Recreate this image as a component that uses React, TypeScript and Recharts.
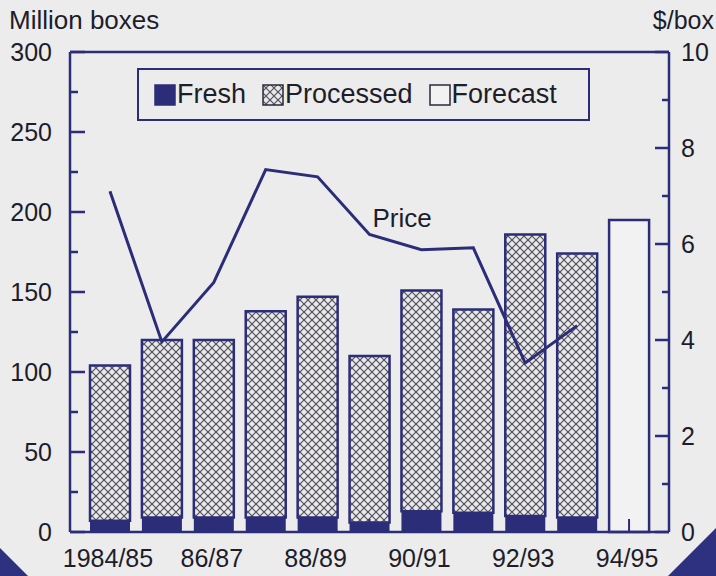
import { Bar, ComposedChart, Legend, Line, ReferenceDot, ReferenceLine, XAxis, YAxis } from 'recharts';

const seasons = ['1984/85', '85/86', '86/87', '87/88', '88/89', '89/90', '90/91', '91/92', '92/93', '93/94', '94/95'];
const freshBoxes = [7, 9, 9, 9, 9, 6, 13, 12, 10, 9, null];
const processedBoxes = [97, 111, 111, 129, 138, 104, 138, 127, 176, 165, null];
const forecastBoxes = [null, null, null, null, null, null, null, null, null, null, 195];
const pricePerBox = [7.1, 3.96, 5.2, 7.55, 7.4, 6.2, 5.88, 5.92, 3.52, 4.3, null];

const boxTicks = [0, 25, 50, 75, 100, 125, 150, 175, 200, 225, 250, 275, 300];
const priceTicks = [0, 1, 2, 3, 4, 5, 6, 7, 8, 9, 10];

const NAVY = '#2c2d78';
const INK = '#1d1d2b';
const BG = '#ececec';
const FONT = '"Liberation Sans", Arial, Helvetica, sans-serif';

const data = seasons.map((season, i) => ({
  season,
  fresh: freshBoxes[i],
  processed: processedBoxes[i],
  forecast: forecastBoxes[i],
  price: pricePerBox[i],
}));

function Hatch({ id }: { id: string }) {
  return (
    <pattern id={id} patternUnits="userSpaceOnUse" width={8} height={8}>
      <rect width={8} height={8} fill="#e9e9ec" />
      <path d="M0,0 L8,8 M8,0 L0,8" stroke="#505058" strokeWidth={1.2} />
    </pattern>
  );
}

function BoxTick({ x, y, payload }: any) {
  const major = payload.value % 50 === 0;
  return (
    <g>
      <line x1={x} x2={x + (major ? 15 : 8)} y1={y} y2={y} stroke={NAVY} strokeWidth={2.5} />
      {major && (
        <text x={x - 18} y={y} textAnchor="end" dominantBaseline="central" fill={INK} fontSize={25} fontFamily={FONT}>
          {payload.value}
        </text>
      )}
    </g>
  );
}

function PriceTick({ x, y, payload }: any) {
  const major = payload.value % 2 === 0;
  return (
    <g>
      <line x1={x} x2={x - (major ? 14 : 7)} y1={y} y2={y} stroke={NAVY} strokeWidth={2.5} />
      {major && (
        <text x={x + 12} y={y} textAnchor="start" dominantBaseline="central" fill={INK} fontSize={25} fontFamily={FONT}>
          {payload.value}
        </text>
      )}
    </g>
  );
}

function SeasonTick({ x, y, payload, index }: any) {
  return (
    <g>
      <line x1={x} x2={x} y1={y} y2={y - 13} stroke={NAVY} strokeWidth={2} />
      {index % 2 === 0 && (
        <text x={x - 2} y={y + 35} textAnchor="middle" fill={INK} fontSize={25} fontFamily={FONT}>
          {payload.value}
        </text>
      )}
    </g>
  );
}

function Swatch({ kind }: { kind: 'fresh' | 'processed' | 'forecast' }) {
  return (
    <svg width={22} height={22} style={{ display: 'block' }}>
      <defs>
        <Hatch id="legend-hatch" />
      </defs>
      <rect
        x={1}
        y={1}
        width={20}
        height={20}
        fill={kind === 'fresh' ? NAVY : kind === 'processed' ? 'url(#legend-hatch)' : '#f2f2f2'}
        stroke={kind === 'fresh' ? NAVY : '#2a2a3a'}
        strokeWidth={1.5}
      />
    </svg>
  );
}

function LegendBox() {
  const items: Array<['fresh' | 'processed' | 'forecast', string]> = [
    ['fresh', 'Fresh'],
    ['processed', 'Processed'],
    ['forecast', 'Forecast'],
  ];
  return (
    <div
      style={{
        boxSizing: 'border-box',
        width: 453,
        height: 53,
        border: `2px solid ${NAVY}`,
        background: BG,
        display: 'flex',
        alignItems: 'center',
        paddingLeft: 15,
        gap: 16,
        fontFamily: FONT,
        fontSize: 27,
        color: INK,
      }}
    >
      {items.map(([kind, label]) => (
        <div key={kind} style={{ display: 'flex', alignItems: 'center', gap: 1 }}>
          <Swatch kind={kind} />
          <span>{label}</span>
        </div>
      ))}
    </div>
  );
}

function PriceLabel({ viewBox }: any) {
  return (
    <text x={viewBox.x + 4} y={viewBox.y - 6} fill={INK} fontSize={26} fontFamily={FONT}>
      Price
    </text>
  );
}

export default function App() {
  return (
    <div style={{ position: 'absolute', left: 0, top: 0, width: 716, height: 576, background: BG, overflow: 'hidden' }}>
      <ComposedChart
        width={716}
        height={576}
        data={data}
        margin={{ top: 52, right: 46, bottom: 43, left: 69 }}
        barSize={40}
      >
        <defs>
          <Hatch id="processed-hatch" />
        </defs>
        <XAxis
          dataKey="season"
          height={1}
          padding={{ left: 14, right: 14 }}
          interval={0}
          tickSize={0}
          tickMargin={0}
          tickLine={false}
          axisLine={{ stroke: NAVY, strokeWidth: 2.5 }}
          tick={<SeasonTick />}
        />
        <YAxis
          yAxisId="left"
          domain={[0, 300]}
          ticks={boxTicks}
          width={1}
          tickSize={0}
          tickMargin={0}
          tickLine={false}
          axisLine={{ stroke: NAVY, strokeWidth: 2.5 }}
          tick={<BoxTick />}
        />
        <YAxis
          yAxisId="right"
          orientation="right"
          domain={[0, 10]}
          ticks={priceTicks}
          width={1}
          tickSize={0}
          tickMargin={0}
          tickLine={false}
          axisLine={{ stroke: NAVY, strokeWidth: 2.5 }}
          tick={<PriceTick />}
        />
        <ReferenceLine yAxisId="left" y={300} stroke={NAVY} strokeWidth={2.5} />
        <Bar yAxisId="left" dataKey="fresh" name="Fresh" stackId="boxes" fill={NAVY} isAnimationActive={false} />
        <Bar
          yAxisId="left"
          dataKey="processed"
          name="Processed"
          stackId="boxes"
          fill="url(#processed-hatch)"
          stroke={NAVY}
          strokeWidth={2.5}
          isAnimationActive={false}
        />
        <Bar
          yAxisId="left"
          dataKey="forecast"
          name="Forecast"
          stackId="boxes"
          fill="#f2f2f2"
          stroke={NAVY}
          strokeWidth={2.5}
          isAnimationActive={false}
        />
        <Line
          yAxisId="right"
          type="linear"
          dataKey="price"
          name="Price"
          stroke={NAVY}
          strokeWidth={3}
          dot={false}
          isAnimationActive={false}
        />
        <ReferenceDot
          yAxisId="right"
          x="89/90"
          y={pricePerBox[5] as number}
          r={1}
          fill="none"
          stroke="none"
          label={PriceLabel}
        />
        <Legend
          layout="horizontal"
          verticalAlign="middle"
          align="center"
          wrapperStyle={{ position: 'absolute', left: 137, top: 68, width: 453, height: 53 }}
          content={() => <LegendBox />}
        />
      </ComposedChart>
      <svg width={716} height={576} style={{ position: 'absolute', left: 0, top: 0, pointerEvents: 'none' }}>
        <text x={9} y={29} fill={INK} fontSize={26} fontFamily={FONT}>
          Million boxes
        </text>
        <text x={714} y={29} textAnchor="end" fill={INK} fontSize={25} fontFamily={FONT}>
          $/box
        </text>
        <polygon points="0,548 0,576 28,576" fill="#2e3080" />
        <polygon points="716,528 716,576 668,576" fill="#2e3080" />
      </svg>
    </div>
  );
}
